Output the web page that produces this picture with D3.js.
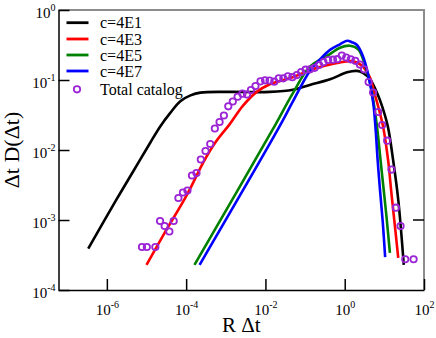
<!DOCTYPE html>
<html>
<head>
<meta charset="utf-8">
<script src="https://cdn.jsdelivr.net/npm/d3@7"></script>
<style>
  body { margin: 0; background: #fff; }
  svg text { font-family: "Liberation Serif", "DejaVu Serif", serif; }
</style>
</head>
<body>
<svg id="drawing_region"></svg>
<script>
// values, stored as log10 of the data
const blackLogX = [-6.47,-5.76,-5.33,-4.91,-4.65,-4.40,-4.14,-3.89,-3.64,-2.90,-1.89,-1.31,-0.88,-0.37,0.06,0.31,0.46,0.64,0.82,0.94,1.09,1.22,1.35,1.49];
const blackLogY = [-3.41,-2.71,-2.30,-1.90,-1.66,-1.47,-1.30,-1.22,-1.18,-1.17,-1.17,-1.14,-1.07,-0.99,-0.89,-0.87,-0.90,-0.99,-1.19,-1.37,-1.67,-2.14,-2.71,-3.64];

const redLogX = [-5.00,-4.55,-3.97,-3.56,-3.26,-2.90,-2.57,-2.22,-1.89,-1.31,-0.88,-0.45,-0.12,0.13,0.31,0.46,0.64,0.74,0.84,0.97,1.10,1.17,1.25,1.35];
const redLogY = [-3.64,-3.19,-2.63,-2.17,-1.89,-1.63,-1.37,-1.17,-1.06,-0.96,-0.86,-0.79,-0.75,-0.73,-0.75,-0.81,-0.97,-1.17,-1.37,-1.67,-2.17,-2.57,-3.00,-3.54];

const greenLogX = [-3.79,-1.82,-1.31,-0.88,-0.40,-0.12,0.13,0.34,0.46,0.64,0.72,0.82,0.89,0.97,1.05,1.14];
const greenLogY = [-3.64,-1.71,-1.19,-0.81,-0.64,-0.54,-0.51,-0.56,-0.70,-1.04,-1.29,-1.69,-2.07,-2.50,-2.93,-3.47];

const blueLogX = [-3.66,-1.69,-1.31,-0.88,-0.63,-0.37,-0.12,0.06,0.18,0.31,0.46,0.59,0.72,0.78,0.83,0.89,0.96,1.02];
const blueLogY = [-3.64,-1.71,-1.31,-0.87,-0.71,-0.57,-0.49,-0.44,-0.46,-0.50,-0.66,-0.92,-1.33,-1.71,-2.14,-2.57,-3.03,-3.53];

const catalogLogX = [-5.114,-4.992,-4.777,-4.658,-4.542,-4.423,-4.314,-4.195,-4.081,-3.967,
  -3.853,-3.739,-3.630,-3.511,-3.392,-3.276,-3.157,-3.048,-2.937,-2.823,
  -2.701,-2.580,-2.466,-2.365,-2.251,-2.124,-2.010,-1.896,-1.777,-1.663,
  -1.549,-1.435,-1.322,-1.208,-1.099,-0.987,-0.873,-0.757,-0.646,-0.537,
  -0.418,-0.296,-0.187,-0.073,0.038,0.152,0.266,0.382,0.489,0.603,
  0.716,0.843,0.944,1.071,1.180,1.291,1.408,1.527,1.737];
const catalogLogY = [-3.386,-3.386,-3.386,-3.014,-3.086,-3.164,-3.014,-2.686,-2.607,-2.579,
  -2.364,-2.329,-2.136,-2.014,-1.914,-1.693,-1.600,-1.507,-1.376,-1.307,
  -1.239,-1.196,-1.207,-1.143,-1.086,-1.019,-1.004,-1.007,-1.024,-0.976,
  -0.976,-0.947,-0.960,-0.929,-0.886,-0.853,-0.847,-0.826,-0.786,-0.746,
  -0.714,-0.710,-0.703,-0.650,-0.679,-0.704,-0.726,-0.779,-0.847,-1.029,
  -1.179,-1.457,-1.643,-1.867,-2.279,-2.824,-3.086,-3.561,-3.561];

const seriesNames = ["c=4E1", "c=4E3", "c=4E5", "c=4E7"];
const seriesColors = ["#000000", "#ff0000", "#008000", "#0000ff"];
const catalogName = "Total catalog";

const xTickExps = [-6, -4, -2, 0, 2];
const yTickExps = [-4, -3, -2, -1, 0];

const serif = '"Liberation Serif", "DejaVu Serif", serif';

const toPoints = (lx, ly) => lx.map((v, i) => ({ x: Math.pow(10, v), y: Math.pow(10, ly[i]) }));

const series = [
  toPoints(blackLogX, blackLogY),
  toPoints(redLogX, redLogY),
  toPoints(greenLogX, greenLogY),
  toPoints(blueLogX, blueLogY)
];
const catalog = toPoints(catalogLogX, catalogLogY);

const width = 436, height = 338;
const margin = { top: 10, right: 12, bottom: 48, left: 58.5 };

const svg = d3.select('#drawing_region')
    .attr('width', width)
    .attr('height', height)
    .style('font-family', serif);

const x = d3.scaleLog()
    .domain([Math.pow(10, -7.22), 100])
    .range([margin.left, width - margin.right]);

const y = d3.scaleLog()
    .domain([1e-4, 1])
    .range([height - margin.bottom, margin.top]);

const x0 = x.range()[0], x1 = x.range()[1];
const y0 = y.range()[1], y1 = y.range()[0];

// gray top and right frame
svg.append('path')
    .attr('d', `M${x0},${y0}H${x1}V${y1}`)
    .attr('fill', 'none')
    .attr('stroke', '#8c8c8c')
    .attr('stroke-width', 2);

// right-side inner ticks
svg.append('g')
    .selectAll('line')
    .data(yTickExps.slice(1, -1))
    .join('line')
    .attr('x1', x1 - 11).attr('x2', x1)
    .attr('y1', d => y(Math.pow(10, d))).attr('y2', d => y(Math.pow(10, d)))
    .attr('stroke', '#000').attr('stroke-width', 1.5);

// bottom axis
const xaxis = d3.axisBottom(x)
    .tickValues(xTickExps.map(e => Math.pow(10, e)))
    .tickSize(-11)
    .tickSizeOuter(0)
    .tickFormat('');

const gx = svg.append('g')
    .attr('transform', `translate(0, ${y1})`)
    .call(xaxis)
    .attr('font-family', serif);
gx.select('.domain').attr('stroke', '#000').attr('stroke-width', 1.5);
gx.selectAll('.tick line').attr('stroke-width', 1.5);

const xlab = gx.selectAll('.tick').append('text')
    .attr('fill', '#000')
    .attr('text-anchor', 'middle')
    .attr('y', 24.5)
    .style('font-family', serif)
    .style('font-size', '15px');
xlab.append('tspan').text('10');
xlab.append('tspan')
    .attr('dy', -7)
    .style('font-size', '10px')
    .text((d, i) => xTickExps[i]);

// left axis
const yaxis = d3.axisLeft(y)
    .tickValues(yTickExps.map(e => Math.pow(10, e)))
    .tickSize(-11)
    .tickSizeOuter(0)
    .tickFormat('');

const gy = svg.append('g')
    .attr('transform', `translate(${x0}, 0)`)
    .call(yaxis)
    .attr('font-family', serif);
gy.select('.domain').attr('stroke', '#000').attr('stroke-width', 1.5);
gy.selectAll('.tick line').attr('stroke-width', 1.5);

const ylab = gy.selectAll('.tick').append('text')
    .attr('fill', '#000')
    .attr('text-anchor', 'end')
    .attr('x', -3)
    .attr('y', 7)
    .style('font-family', serif)
    .style('font-size', '15px');
ylab.append('tspan').text('10');
ylab.append('tspan')
    .attr('dy', -7)
    .style('font-size', '10px')
    .text((d, i) => yTickExps[i]);

// axis titles
svg.append('text')
    .attr('x', (x0 + x1) / 2)
    .attr('y', 332)
    .attr('text-anchor', 'middle')
    .style('font-size', '21px')
    .text('R Δt');

svg.append('text')
    .attr('transform', `translate(19, ${(y0 + y1) / 2}) rotate(-90)`)
    .attr('text-anchor', 'middle')
    .style('font-size', '22px')
    .text('Δt D(Δt)');

// curves
const line = d3.line()
    .x(d => x(d.x))
    .y(d => y(d.y))
    .curve(d3.curveCatmullRom.alpha(0.5));

svg.append('g')
    .selectAll('path')
    .data(series)
    .join('path')
    .attr('d', line)
    .attr('fill', 'none')
    .attr('stroke', (d, i) => seriesColors[i])
    .attr('stroke-width', 2.6);

// catalog points
svg.append('g')
    .selectAll('circle')
    .data(catalog)
    .join('circle')
    .attr('cx', d => x(d.x))
    .attr('cy', d => y(d.y))
    .attr('r', 3.2)
    .attr('fill', 'none')
    .attr('stroke', '#9b24d6')
    .attr('stroke-width', 1.8);

// legend
const legendRows = [22.7, 39, 55, 71];
const legend = svg.append('g');

legend.selectAll('line')
    .data(seriesNames)
    .join('line')
    .attr('x1', 66.5).attr('x2', 88.5)
    .attr('y1', (d, i) => legendRows[i]).attr('y2', (d, i) => legendRows[i])
    .attr('stroke', (d, i) => seriesColors[i])
    .attr('stroke-width', 2.8);

legend.selectAll('text')
    .data(seriesNames.concat([catalogName]))
    .join('text')
    .attr('x', 100)
    .attr('y', (d, i) => (i < 4 ? legendRows[i] : 89.3) + 5.5)
    .style('font-size', '16px')
    .text(d => d);

legend.append('circle')
    .attr('cx', 77).attr('cy', 89.3)
    .attr('r', 3.2)
    .attr('fill', 'none')
    .attr('stroke', '#9b24d6')
    .attr('stroke-width', 1.8);
</script>
</body>
</html>
